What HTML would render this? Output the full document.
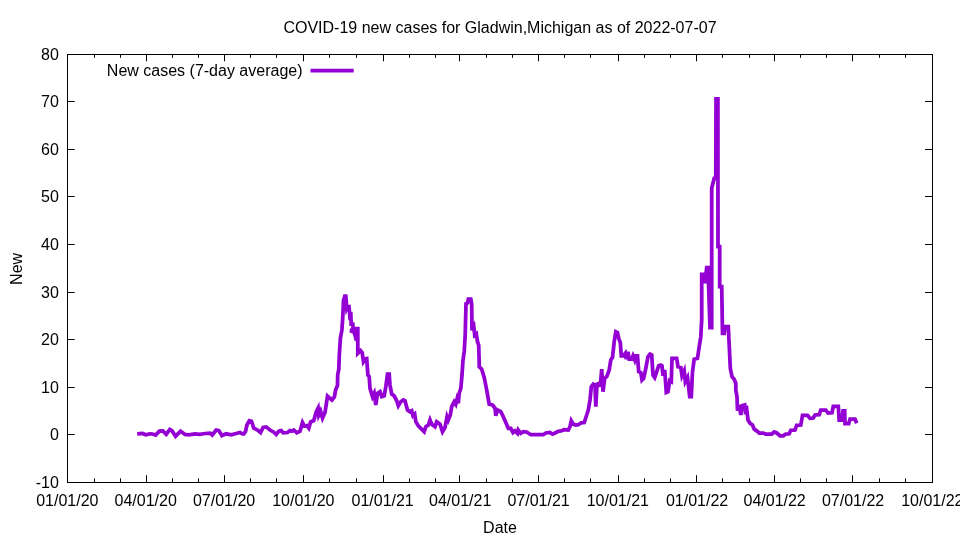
<!DOCTYPE html>
<html><head><meta charset="utf-8"><title>COVID-19 new cases for Gladwin,Michigan</title>
<style>html,body{margin:0;padding:0;background:#fff}body{width:960px;height:540px;overflow:hidden}svg{display:block;will-change:transform}text{font-family:"Liberation Sans",sans-serif;font-size:16px;fill:#000}</style></head><body>
<svg width="960" height="540" viewBox="0 0 960 540">
<rect width="960" height="540" fill="#fff"/>
<path d="M67.5,101.5h7.25M932.5,101.5h-7.45M67.5,149.5h7.25M932.5,149.5h-7.45M67.5,196.5h7.25M932.5,196.5h-7.45M67.5,244.5h7.25M932.5,244.5h-7.45M67.5,292.5h7.25M932.5,292.5h-7.45M67.5,339.5h7.25M932.5,339.5h-7.45M67.5,387.5h7.25M932.5,387.5h-7.45M67.5,434.5h7.25M932.5,434.5h-7.45M94.5,482.5v-4.2M94.5,54.5v3.3M120.5,482.5v-4.2M120.5,54.5v3.3M146.5,482.5v-7.3M146.5,54.5v6.8M172.5,482.5v-4.2M172.5,54.5v3.3M198.5,482.5v-4.2M198.5,54.5v3.3M224.5,482.5v-7.3M224.5,54.5v6.8M250.5,482.5v-4.2M250.5,54.5v3.3M276.5,482.5v-4.2M276.5,54.5v3.3M303.5,482.5v-7.3M303.5,54.5v6.8M329.5,482.5v-4.2M329.5,54.5v3.3M356.5,482.5v-4.2M356.5,54.5v3.3M383.5,482.5v-7.3M383.5,54.5v6.8M409.5,482.5v-4.2M409.5,54.5v3.3M435.5,482.5v-4.2M435.5,54.5v3.3M459.5,482.5v-7.3M459.5,54.5v6.8M486.5,482.5v-4.2M486.5,54.5v3.3M512.5,482.5v-4.2M512.5,54.5v3.3M538.5,482.5v-7.3M538.5,54.5v6.8M564.5,482.5v-4.2M564.5,54.5v3.3M590.5,482.5v-4.2M590.5,54.5v3.3M618.5,482.5v-7.3M618.5,54.5v6.8M644.5,482.5v-4.2M644.5,54.5v3.3M670.5,482.5v-4.2M670.5,54.5v3.3M696.5,482.5v-7.3M696.5,54.5v6.8M722.5,482.5v-4.2M722.5,54.5v3.3M749.5,482.5v-4.2M749.5,54.5v3.3M774.5,482.5v-7.3M774.5,54.5v6.8M800.5,482.5v-4.2M800.5,54.5v3.3M826.5,482.5v-4.2M826.5,54.5v3.3M852.5,482.5v-7.3M852.5,54.5v6.8M879.5,482.5v-4.2M879.5,54.5v3.3M905.5,482.5v-4.2M905.5,54.5v3.3" stroke="#000" stroke-width="1" fill="none"/>
<rect x="67.5" y="54.5" width="865.0" height="428.0" fill="none" stroke="#000" stroke-width="1"/>
<text x="58.9" y="59.80" text-anchor="end">80</text>
<text x="58.9" y="107.36" text-anchor="end">70</text>
<text x="58.9" y="154.91" text-anchor="end">60</text>
<text x="58.9" y="202.47" text-anchor="end">50</text>
<text x="58.9" y="250.02" text-anchor="end">40</text>
<text x="58.9" y="297.58" text-anchor="end">30</text>
<text x="58.9" y="345.14" text-anchor="end">20</text>
<text x="58.9" y="392.69" text-anchor="end">10</text>
<text x="58.9" y="440.25" text-anchor="end">0</text>
<text x="58.9" y="487.80" text-anchor="end">-10</text>
<text x="67.30" y="505.5" text-anchor="middle">01/01/20</text>
<text x="145.70" y="505.5" text-anchor="middle">04/01/20</text>
<text x="224.10" y="505.5" text-anchor="middle">07/01/20</text>
<text x="303.37" y="505.5" text-anchor="middle">10/01/20</text>
<text x="382.63" y="505.5" text-anchor="middle">01/01/21</text>
<text x="460.17" y="505.5" text-anchor="middle">04/01/21</text>
<text x="538.57" y="505.5" text-anchor="middle">07/01/21</text>
<text x="617.83" y="505.5" text-anchor="middle">10/01/21</text>
<text x="697.10" y="505.5" text-anchor="middle">01/01/22</text>
<text x="774.64" y="505.5" text-anchor="middle">04/01/22</text>
<text x="853.04" y="505.5" text-anchor="middle">07/01/22</text>
<text x="932.30" y="505.5" text-anchor="middle">10/01/22</text>
<text x="500" y="32.5" text-anchor="middle">COVID-19 new cases for Gladwin,Michigan as of 2022-07-07</text>
<text x="500" y="532.5" text-anchor="middle">Date</text>
<text transform="translate(21.5,268.9) rotate(-90)" text-anchor="middle">New</text>
<text x="302.5" y="76" text-anchor="end">New cases (7-day average)</text>
<path d="M310.5,70.5H353.7" stroke="#9400d3" stroke-width="3.75" fill="none"/>
<path d="M137.2,433.8L142.5,433.5L145.6,434.8L150.0,433.8L152.5,434.0L155.6,435.0L159.4,431.2L162.8,431.0L166.2,434.4L169.8,429.4L171.9,430.6L175.6,436.2L180.6,431.2L185.0,434.4L188.8,434.8L195.0,433.8L200.0,434.4L205.0,433.5L210.0,433.1L212.2,435.0L216.2,430.0L218.8,430.6L221.9,435.6L226.2,433.8L231.2,434.8L236.2,433.5L240.0,432.5L242.5,433.8L243.8,433.8L245.6,431.2L246.9,425.0L249.4,420.6L251.5,421.2L253.8,428.1L257.5,430.0L260.6,432.5L263.1,427.5L266.2,426.9L270.0,430.0L273.8,432.2L276.2,434.4L278.8,431.2L281.2,430.6L283.1,432.8L287.5,432.5L290.0,430.6L291.9,431.2L293.8,430.0L296.9,432.8L300.0,431.2L302.5,422.5L304.4,426.2L306.9,425.6L308.8,428.1L310.6,421.9L313.8,420.6L316.2,411.9L318.1,408.1L318.8,415.0L320.6,411.2L322.5,418.1L325.0,412.5L327.5,396.2L331.9,400.0L334.4,396.9L335.6,390.0L337.5,385.6L337.7,375.0L338.8,369.2L339.3,355.0L340.4,338.3L341.9,330.0L342.5,321.3L343.1,310.5L343.5,300.5L344.8,296.1L345.8,296.1L346.8,308.4L347.7,306.5L349.0,306.5L349.7,314.7L350.3,313.6L350.8,313.6L351.2,324.0L352.8,324.0L353.1,328.6L351.7,329.7L351.2,332.5L354.2,328.6L357.8,328.6L357.8,353.3L360.5,350.6L362.2,352.7L363.5,361.7L365.5,358.8L366.7,358.5L367.9,375.0L369.2,376.7L370.0,388.3L372.5,396.7L374.2,393.3L375.8,405.0L377.5,393.3L380.0,391.7L381.7,396.7L384.2,395.8L385.8,386.7L387.5,374.2L389.2,374.2L390.0,385.0L391.7,394.2L394.2,395.8L396.7,400.8L398.3,405.8L400.8,401.7L403.3,400.0L405.0,400.8L407.5,410.0L410.0,411.7L411.7,410.8L413.0,415.8L414.7,414.2L415.8,421.7L418.3,425.8L420.8,428.3L424.2,431.7L425.8,426.7L428.3,425.0L430.0,420.0L431.7,424.2L435.0,426.7L436.7,421.7L440.0,424.2L442.5,431.7L445.0,427.5L447.0,416.7L448.3,420.0L450.3,415.0L451.7,406.7L454.2,401.7L455.8,404.2L457.0,399.2L458.3,403.3L459.2,393.3L460.8,388.3L462.0,375.0L463.0,360.0L463.3,358.3L464.2,351.7L465.2,335.0L466.0,303.7L467.5,303.0L468.3,299.0L470.8,299.0L471.7,304.2L472.0,330.3L473.8,326.7L474.7,335.0L476.3,333.7L477.5,341.7L478.7,345.3L479.2,362.5L479.2,366.7L481.7,369.2L484.2,377.5L486.7,390.0L489.2,404.2L492.5,405.0L495.0,408.3L495.8,415.8L497.5,410.0L500.8,411.7L503.3,416.7L505.8,422.5L508.3,428.3L510.8,428.3L513.0,432.5L515.0,430.8L517.5,433.3L518.3,430.0L520.8,433.3L523.3,431.7L526.7,432.0L530.8,434.7L535.0,434.7L543.3,434.7L545.8,433.0L550.0,432.5L552.5,434.2L555.0,433.0L558.3,431.3L561.7,430.8L564.2,429.7L568.3,430.0L570.0,426.7L571.3,420.8L573.3,424.2L575.8,425.0L578.3,424.7L580.8,423.0L584.2,422.5L586.7,415.0L588.3,410.0L590.0,400.0L591.3,386.7L593.3,384.2L595.0,385.0L595.8,406.7L597.0,384.2L599.2,383.3L600.3,386.7L601.7,369.2L603.0,391.7L604.7,378.3L606.7,376.7L609.2,370.0L610.8,360.0L612.5,357.5L614.2,341.7L615.8,331.7L617.5,332.5L618.7,338.3L620.3,342.5L621.3,355.8L623.3,355.8L625.3,353.3L626.3,359.2L628.0,351.7L629.2,359.2L631.7,359.2L633.0,355.8L634.7,360.0L635.8,355.8L637.5,355.8L638.7,371.7L640.8,372.5L642.0,380.0L643.7,378.3L645.8,368.3L648.0,356.7L650.0,354.2L651.7,355.0L653.0,375.0L654.7,377.5L656.7,371.7L658.7,365.8L660.8,365.0L662.0,365.8L663.0,375.8L664.7,370.0L666.3,392.5L668.0,391.7L669.7,380.8L671.3,381.7L672.0,358.3L676.7,358.3L678.0,366.7L680.8,367.5L682.0,375.8L684.2,370.8L685.3,381.7L687.5,377.5L689.7,396.7L691.3,396.7L692.5,371.7L694.2,359.2L697.5,358.3L699.2,346.7L700.8,336.7L701.7,320.0L701.7,316.7L701.7,274.3L704.2,274.3L705.0,283.3L706.7,267.7L708.0,267.7L710.0,327.5L711.7,327.5L711.7,250.0L711.7,188.3L714.2,178.3L715.8,178.3L716.0,98.9L717.9,98.9L718.0,246.7L719.7,246.7L719.7,286.7L721.7,286.7L722.5,333.3L724.2,333.3L725.0,326.7L728.3,326.7L729.2,345.0L730.3,368.3L732.0,376.7L734.2,379.2L735.8,383.3L735.8,390.0L737.0,396.7L737.5,410.8L739.2,405.0L740.8,415.0L742.0,405.8L744.7,405.0L745.3,410.8L746.7,409.2L748.0,420.0L750.0,423.3L752.5,425.0L754.2,429.2L756.7,430.8L759.2,433.0L763.3,433.0L765.8,434.2L771.7,434.2L774.2,432.0L776.7,433.0L780.0,435.8L783.3,435.8L785.3,434.2L789.2,433.8L790.8,430.3L795.0,430.0L796.7,425.3L800.8,425.0L802.5,415.3L807.5,415.3L810.0,418.3L813.3,418.0L815.0,415.0L819.2,414.7L820.8,410.0L825.8,410.0L828.0,413.0L832.0,412.7L833.3,406.3L838.3,406.3L839.2,420.0L842.0,420.0L843.0,410.8L844.7,410.8L845.0,423.7L848.7,423.7L850.0,419.2L855.0,419.2L856.7,423.3M353.5,330.0L354.3,332.5L356.5,340.8" stroke="#9400d3" stroke-width="3.75" fill="none" stroke-linejoin="miter" stroke-miterlimit="4" stroke-linecap="butt"/>
</svg></body></html>
